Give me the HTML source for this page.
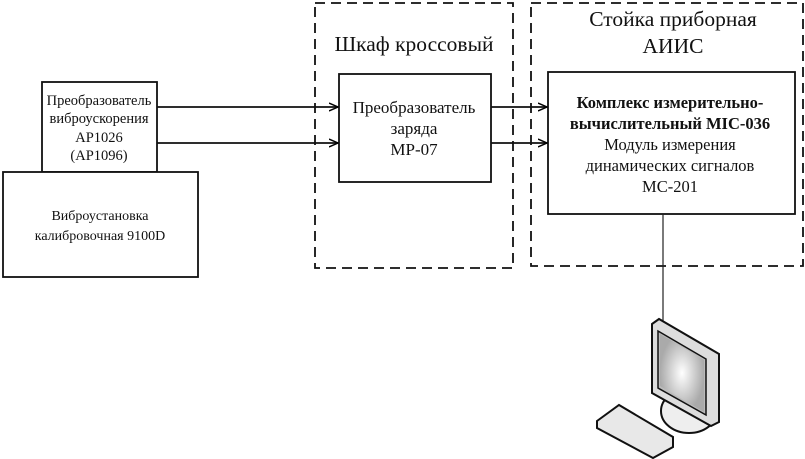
<!DOCTYPE html>
<html><head><meta charset="utf-8"><style>
body{margin:0;background:#fff;}
svg{display:block;font-family:"Liberation Serif",serif;}
</style></head><body>
<svg width="805" height="459" viewBox="0 0 805 459" xmlns="http://www.w3.org/2000/svg">
<defs><marker id="a" markerWidth="10" markerHeight="10" refX="9" refY="5" orient="auto" markerUnits="userSpaceOnUse"><path d="M0,1 L9,5 L0,9" fill="none" stroke="#000" stroke-width="1.5"/></marker>
<radialGradient id="g"><stop offset="0" stop-color="#fff"/><stop offset="1" stop-color="#aaa"/></radialGradient></defs>
<g fill="none" stroke="#111" stroke-width="1.8" stroke-dasharray="10,6">
<rect x="315" y="3" width="198" height="265"/>
<rect x="531" y="3" width="272" height="263"/>
</g>
<g fill="#fff" stroke="#111" stroke-width="1.8">
<rect x="42" y="82" width="115" height="90"/>
<rect x="3" y="172" width="195" height="105"/>
<rect x="339" y="74" width="152" height="108"/>
<rect x="548" y="72" width="247" height="142"/>
</g>
<g stroke="#111" stroke-width="1.8" marker-end="url(#a)">
<line x1="157" y1="107" x2="338" y2="107"/>
<line x1="157" y1="143" x2="338" y2="143"/>
<line x1="491" y1="107" x2="547" y2="107"/>
<line x1="491" y1="143" x2="547" y2="143"/>
</g>
<line x1="663" y1="214" x2="663" y2="322" stroke="#222" stroke-width="1.2"/>
<g text-anchor="middle" fill="#111">
<text x="414" y="51" font-size="21.5">Шкаф кроссовый</text>
<text x="673" y="26" font-size="21.5">Стойка приборная</text>
<text x="673" y="53" font-size="21.5">АИИС</text>
<g font-size="14.5"><text x="99" y="105">Преобразователь</text><text x="99" y="123">виброускорения</text><text x="99" y="142">AP1026</text><text x="99" y="160">(AP1096)</text></g>
<g font-size="14"><text x="100" y="220">Виброустановка</text><text x="100" y="240">калибровочная 9100D</text></g>
<g font-size="17"><text x="414" y="113">Преобразователь</text><text x="414" y="134">заряда</text><text x="414" y="155">MP-07</text></g>
<g font-size="16.5"><text x="670" y="108" font-weight="bold">Комплекс измерительно-</text><text x="670" y="129" font-weight="bold">вычислительный MIC-036</text><text x="670" y="150">Модуль измерения</text><text x="670" y="171">динамических сигналов</text><text x="670" y="192">MC-201</text></g>
</g>
<g stroke="#111" stroke-width="2">
<ellipse cx="689" cy="411" rx="28" ry="22" fill="#eee"/>
<path d="M652,324 L659,319 L719,354 L719,422 L711,426 L652,393 Z" fill="#ddd"/>
<path d="M658,331 L706,359 L706,415 L658,388 Z" fill="#bbb" stroke-width="1.5"/>
<path d="M597,421 L619,405 L673,437 L673,447 L653,458 L597,428 Z" fill="#e8e8e8"/>
</g>
<path d="M660,334 L704,360 L704,412 L660,386 Z" fill="url(#g)"/>
</svg>
</body></html>
